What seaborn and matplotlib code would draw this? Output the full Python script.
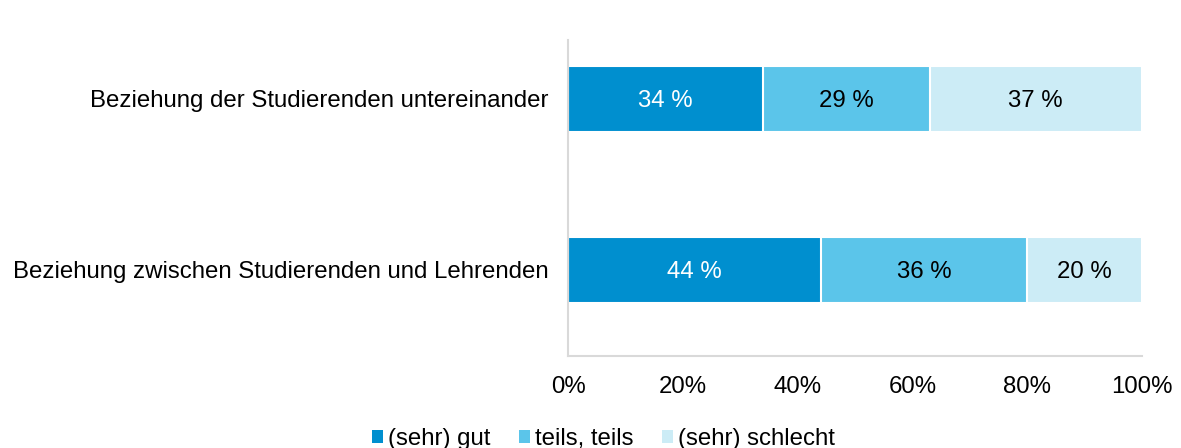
import pandas as pd
import seaborn as sns
from matplotlib import pyplot as plt
from matplotlib.patches import Patch

categories = ["Beziehung der Studierenden untereinander",
              "Beziehung zwischen Studierenden und Lehrenden"]
series = ["(sehr) gut", "teils, teils", "(sehr) schlecht"]
gut = [34, 44]
teils = [29, 36]
schlecht = [37, 20]
colors = ["#008FCF", "#5BC5EA", "#CCECF6"]
text_colors = ["white", "black", "black"]
xticks = [0, 20, 40, 60, 80, 100]

sns.set_theme(style="white")
plt.rcParams["font.family"] = ["Liberation Sans", "DejaVu Sans"]
fs = 17.3

df = pd.DataFrame({"cat": categories, "gut": gut, "teils": teils, "schlecht": schlecht})
df["c1"] = df["gut"]
df["c2"] = df["gut"] + df["teils"]
df["c3"] = df["c2"] + df["schlecht"]

fig = plt.figure(figsize=(11.81, 4.48), dpi=100)
ax = fig.add_axes([568 / 1181, 1 - 356 / 448, (1142 - 568) / 1181, (356 - 40) / 448])

# stacked bars: draw cumulative totals back to front
for col, color in zip(["c3", "c2", "c1"], colors[::-1]):
    sns.barplot(data=df, x=col, y="cat", color=color, width=0.386, saturation=1,
                edgecolor="white", linewidth=1.5, ax=ax, orient="h")

for i, row in df.iterrows():
    start = 0
    for val, tc in zip([row["gut"], row["teils"], row["schlecht"]], text_colors):
        ax.text(start + val / 2, i, f"{val} %", ha="center", va="center_baseline",
                color=tc, fontsize=fs)
        start += val

ax.set_xlim(0, 100)
ax.set_ylim(1.503, -0.345)
ax.set_xticks(xticks)
ax.set_xticklabels([f"{t}%" for t in xticks], fontsize=fs, color="black")
ax.tick_params(axis="y", labelsize=fs, pad=13.7, length=0, labelcolor="black")
ax.tick_params(axis="x", pad=14.5, length=0)
ax.set_xlabel("")
ax.set_ylabel("")
for s in ["top", "right"]:
    ax.spines[s].set_visible(False)
for s in ["left", "bottom"]:
    ax.spines[s].set_color("#D9D9D9")
    ax.spines[s].set_linewidth(1.5)

handles = [Patch(facecolor=c, edgecolor="none", label=l) for c, l in zip(colors, series)]
fig.legend(handles=handles, loc="lower center", bbox_to_anchor=(0.511, -0.052),
           ncol=3, frameon=False, fontsize=fs, handlelength=0.45, handleheight=0.45,
           handletextpad=0.2, columnspacing=1.2, labelcolor="black")

fig.savefig("out.png", dpi=100)
